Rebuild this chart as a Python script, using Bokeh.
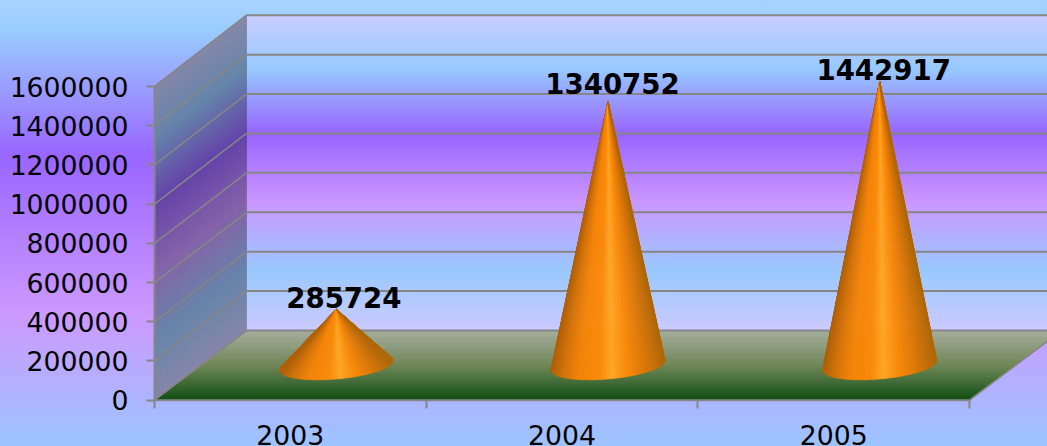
import numpy as np
from bokeh.plotting import figure
from bokeh.models import LinearAxis, FixedTicker, Range1d
from bokeh.core.properties import value
from bokeh.embed import file_html
from bokeh.resources import INLINE

years = ["2003", "2004", "2005"]
sales = [285724, 1340752, 1442917]
y_ticks = [0, 200000, 400000, 600000, 800000, 1000000, 1200000, 1400000, 1600000]
Y_MAX = 1600000

label_dx = [7.5, 4.5, 4.0]
label_dy = [-12, -18, -12]

W, H = 1047, 446
# plot box on the canvas (pixels)
X0, X3, Y0, YT = 154.0, 969.0, 399.7, 86.0
PX_DX, PX_DY = 92.0, 69.7
STRETCH = 0.005                 # back wall is slightly taller than the front
sx = (X3 - X0) / 3.0            # pixels per category
sy = (Y0 - YT) / Y_MAX          # pixels per value unit
DX = PX_DX / sx                 # depth offset, category units
DY = PX_DY / sy                 # depth offset, value units

wall_pos = [0.0, 0.165, 0.375, 0.59, 0.81, 1.0]
wall_rgb = np.array([[204, 204, 255], [153, 204, 255], [153, 102, 255],
                     [204, 153, 255], [153, 204, 255], [204, 204, 255]], float)
floor_pos = [0.0, 0.5, 1.0]
floor_rgb = np.array([[166, 174, 154], [112, 136, 84], [13, 77, 13]], float)
cone_pos = [-1.0, -0.78, -0.5, -0.15, 0.08, 0.35, 0.7, 1.0]
cone_rgb = np.array([[176, 96, 8], [214, 116, 8], [245, 133, 8], [251, 138, 10],
                     [255, 167, 38], [251, 138, 10], [216, 118, 8], [176, 104, 8]], float)
GRID = "#868686"


def ramp(t, pos, rgb):
    return np.stack([np.interp(t, pos, rgb[:, k]) for k in range(3)], axis=1)


def hexes(c):
    return ["#%02x%02x%02x" % tuple(int(round(v)) for v in row) for row in c]


def proj(cat, val, depth):
    d = np.asarray(depth)
    return cat + d * DX, val * (1 + d * STRETCH) + d * DY


p = figure(width=W, height=H, toolbar_location=None, output_backend="svg",
           x_axis_type=None, y_axis_type=None, min_border=0,
           x_range=Range1d(-X0 / sx, (W - X0) / sx),
           y_range=Range1d((Y0 - H) / sy, Y0 / sy),
           background_fill_alpha=0, border_fill_alpha=0, outline_line_color=None)
p.grid.visible = False
p.styles = {
    "position": "fixed", "left": "0px", "top": "0px",
    "background": "linear-gradient(180deg,#a9d3ff 0px,#99ccff 30px,#9966ff 155px,"
                  "#cc99ff 315px,#9cc4ff 446px)",
}

# wall bands
n = 315
edges = np.linspace(0, Y_MAX, n + 1)
mid = 0.5 * (edges[:-1] + edges[1:])
cols = ramp(1 - mid / Y_MAX, wall_pos, wall_rgb)

bx, by = [], []
sxs, sys = [], []
for a, b in zip(edges[:-1], edges[1:]):
    xa, ya = proj(0.0, a, 1.0)
    xb, yb = proj(3.0, b, 1.0)
    bx.append([xa, xb, xb, xa])
    by.append([ya, ya, yb, yb])
    x1, y1 = proj(0.0, a, 0.0)
    x2, y2 = proj(0.0, a, 1.0)
    x3, y3 = proj(0.0, b, 1.0)
    x4, y4 = proj(0.0, b, 0.0)
    sxs.append([x1, x2, x3, x4])
    sys.append([y1, y2, y3, y4])
back_c = hexes(cols)
side_c = hexes(cols * 0.65)
p.patches(bx, by, fill_color=back_c, line_color=back_c, line_width=0.6)
p.patches(sxs, sys, fill_color=side_c, line_color=side_c, line_width=0.6)

# floor bands
m = 70
d_edges = np.linspace(1, 0, m + 1)
fx, fy = [], []
for a, b in zip(d_edges[:-1], d_edges[1:]):
    xa, ya = proj(0.0, 0.0, a)
    xb, yb = proj(3.0, 0.0, a)
    xc, yc = proj(3.0, 0.0, b)
    xd, yd = proj(0.0, 0.0, b)
    fx.append([xa, xb, xc, xd])
    fy.append([ya, yb, yc, yd])
floor_c = hexes(ramp(np.linspace(0, 1, m), floor_pos, floor_rgb))
p.patches(fx, fy, fill_color=floor_c, line_color=floor_c, line_width=0.6)

# grid lines on back wall and side wall
back_x = [[DX, 3.0 + DX] for v in y_ticks]
back_y = [[proj(0.0, v, 1.0)[1]] * 2 for v in y_ticks]
p.multi_line(back_x, back_y, line_color=GRID, line_width=2)
side_x = [[0.0, DX] for v in y_ticks]
side_y = [[v, proj(0.0, v, 1.0)[1]] for v in y_ticks]
p.multi_line(side_x, side_y, line_color=GRID, line_width=1.6)
p.multi_line([[3.0, 3.0 + DX]], [[0, DY]], line_color=GRID, line_width=1.6)
p.multi_line([[0.0, 3.0]], [[0, 0]], line_color=GRID, line_width=2)

# axes
yax = LinearAxis(fixed_location=0.0, ticker=FixedTicker(ticks=y_ticks), bounds=(0, Y_MAX))
yax.formatter.use_scientific = False
yax.axis_line_color = GRID
yax.axis_line_width = 2
yax.major_tick_line_color = GRID
yax.major_tick_line_width = 2
yax.major_tick_out = 8
yax.major_tick_in = 0
yax.minor_tick_line_color = None
yax.major_label_standoff = 18
yax.major_label_text_font = "DejaVu Sans"
yax.major_label_text_font_size = "26.7px"
yax.major_label_text_color = "#000000"
p.add_layout(yax, "left")

centers = [i + 0.5 for i in range(len(years))]
xax = LinearAxis(fixed_location=0.0, bounds=(0, 3),
                 ticker=FixedTicker(ticks=centers, minor_ticks=[0, 1, 2, 3]),
                 major_label_overrides={c: y for c, y in zip(centers, years)})
xax.axis_line_color = None
xax.major_tick_line_color = None
xax.major_tick_out = 0
xax.major_tick_in = 0
xax.minor_tick_line_color = GRID
xax.minor_tick_line_width = 2
xax.minor_tick_out = 8
xax.minor_tick_in = 0
xax.major_label_standoff = 17
xax.major_label_text_font = "DejaVu Sans"
xax.major_label_text_font_size = "26.7px"
xax.major_label_text_color = "#000000"
p.add_layout(xax, "below")

# cones
R_CAT, R_DEPTH = 0.1977, 0.207
DEPTH = 0.5
tx, ty, tc = [], [], []
for i, v in enumerate(sales):
    cat = i + 0.5
    top_x, top_y = proj(cat, v, DEPTH)
    th = np.linspace(np.pi * 0.9, 2.6 * np.pi, 1200)
    ex = cat + DEPTH * DX + R_CAT * np.cos(th) + R_DEPTH * np.sin(th) * DX
    ey = R_DEPTH * np.sin(th) * DY + DEPTH * DY
    k = (ex - top_x) / (top_y - ey)
    il, ir = int(np.argmin(k)), int(np.argmax(k))
    idx = np.linspace(il, ir, 90).round().astype(int)
    px, py = ex[idx], ey[idx]
    half = max(abs(px[0] - top_x), abs(px[-1] - top_x))
    for j in range(len(idx) - 1):
        tx.append([top_x, px[j], px[j + 1]])
        ty.append([top_y, py[j], py[j + 1]])
        u = (0.5 * (px[j] + px[j + 1]) - top_x) / half
        tc.append(u)
cone_c = hexes(ramp(np.array(tc), cone_pos, cone_rgb))
p.patches(tx, ty, fill_color=cone_c, line_color=cone_c, line_width=0.7)

# value labels
lx = [proj(i + 0.5, v, DEPTH)[0] for i, v in enumerate(sales)]
ly = [proj(i + 0.5, v, DEPTH)[1] for i, v in enumerate(sales)]
p.text(lx, ly, text=[str(v) for v in sales], text_font=value("DejaVu Sans"),
       text_font_style="bold", text_font_size="27.6px", text_color="#000000",
       text_align="center", text_baseline="alphabetic",
       x_offset=label_dx, y_offset=label_dy)

open("out.html", "w").write(file_html(p, INLINE))
